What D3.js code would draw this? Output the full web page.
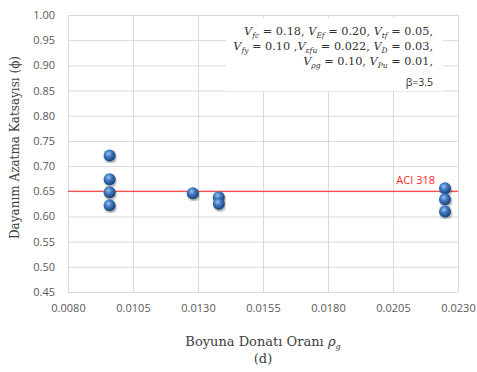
<!DOCTYPE html>
<html>
<head>
<meta charset="utf-8">
<script src="https://cdn.jsdelivr.net/npm/d3@7"></script>
<style>
  body { margin: 0; background: #fff; }
  svg { display: block; }
  .tick text { font-family: 'Open Sans', 'Liberation Sans', sans-serif; font-size: 11px; fill: #595959; }
  .grid line { stroke: #d9d9d9; stroke-width: 1; }
  .title { font-family: 'DejaVu Serif', 'Liberation Serif', serif; font-size: 12px; fill: #404040; }
  .note { font-family: 'DejaVu Serif', 'Liberation Serif', serif; font-size: 11.3px; fill: #333; }
</style>
</head>
<body>
<div id="chart"></div>
<script>
// longitudinal reinforcement ratio (x) vs strength reduction factor (y)
const rhoValues = [0.0096, 0.0096, 0.0096, 0.0096, 0.0128, 0.0138, 0.0138, 0.0225, 0.0225, 0.0225];
const phiValues = [0.721, 0.674, 0.648, 0.622, 0.646, 0.638, 0.625, 0.656, 0.634, 0.610];
const aciLimit = 0.65;
const xTicks = [0.0080, 0.0105, 0.0130, 0.0155, 0.0180, 0.0205, 0.0230];
const yTicks = [0.45, 0.50, 0.55, 0.60, 0.65, 0.70, 0.75, 0.80, 0.85, 0.90, 0.95, 1.00];

const width = 477, height = 372;
const margin = { left: 68, top: 15, right: 19, bottom: 80 };

const x = d3.scaleLinear().domain([0.008, 0.023]).range([margin.left, width - margin.right]);
const y = d3.scaleLinear().domain([0.45, 1.00]).range([height - margin.bottom, margin.top]);

const svg = d3.select('#chart').append('svg')
    .attr('width', width)
    .attr('height', height);

const defs = svg.append('defs');
const grad = defs.append('radialGradient').attr('id', 'ball')
    .attr('cx', '40%').attr('cy', '35%').attr('r', '65%');
grad.append('stop').attr('offset', '0%').attr('stop-color', '#9cc3ec');
grad.append('stop').attr('offset', '45%').attr('stop-color', '#3c78c0');
grad.append('stop').attr('offset', '100%').attr('stop-color', '#1a3f70');
defs.append('filter').attr('id', 'shadow')
    .append('feDropShadow').attr('dx', 1).attr('dy', 2).attr('stdDeviation', 1.2)
    .attr('flood-color', '#000').attr('flood-opacity', 0.35);

// gridlines
svg.append('g').attr('class', 'grid')
    .attr('transform', `translate(0,${height - margin.bottom})`)
    .call(d3.axisBottom(x).tickValues(xTicks).tickSize(-(height - margin.bottom - margin.top)).tickFormat(''))
    .call(g => g.select('.domain').remove());
svg.append('g').attr('class', 'grid')
    .attr('transform', `translate(${margin.left},0)`)
    .call(d3.axisLeft(y).tickValues(yTicks).tickSize(-(width - margin.left - margin.right)).tickFormat(''))
    .call(g => g.select('.domain').remove());

// tick labels
svg.append('g')
    .attr('transform', `translate(0,${height - margin.bottom})`)
    .call(d3.axisBottom(x).tickValues(xTicks).tickSize(0).tickPadding(12).tickFormat(d3.format('.4f')))
    .call(g => g.select('.domain').remove());
svg.append('g')
    .attr('transform', `translate(${margin.left},0)`)
    .call(d3.axisLeft(y).tickValues(yTicks).tickSize(0).tickPadding(13).tickFormat(d3.format('.2f')))
    .call(g => g.select('.domain').remove());

// annotation box
const note = svg.append('g');
note.append('rect').attr('x', 226).attr('y', 18).attr('width', 217).attr('height', 73).attr('fill', '#fff');
const lines = [
  [['V', 'i'], ['fc', 's'], [' = 0.18, '], ['V', 'i'], ['Ef', 's'], [' = 0.20, '], ['V', 'i'], ['tf', 's'], [' = 0.05,']],
  [['V', 'i'], ['fy', 's'], [' = 0.10 ,'], ['V', 'i'], ['εfu', 's'], [' = 0.022, '], ['V', 'i'], ['D', 's'], [' = 0.03,']],
  [['V', 'i'], ['ρg', 's'], [' = 0.10, '], ['V', 'i'], ['Pu', 's'], [' = 0.01,']]
];
lines.forEach((parts, i) => {
  const t = note.append('text').attr('class', 'note')
      .attr('x', 433).attr('y', 35 + i * 15).attr('text-anchor', 'end');
  let low = false;
  parts.forEach(p => {
    const span = t.append('tspan').text(p[0]);
    if (p[1] === 'i') span.attr('font-style', 'italic');
    if (p[1] === 's') {
      span.attr('font-size', '7.5px').attr('font-style', 'italic').attr('dy', 3);
      low = true;
    } else if (low) {
      span.attr('dy', -3);
      low = false;
    }
  });
});
note.append('text').attr('class', 'note')
    .attr('x', 433).attr('y', 86).attr('text-anchor', 'end')
    .style('font-family', "'Open Sans', sans-serif").style('font-size', '10.5px')
    .text('β=3.5');

// ACI 318 line
svg.append('line')
    .attr('x1', x(0.008)).attr('x2', x(0.023))
    .attr('y1', y(aciLimit)).attr('y2', y(aciLimit))
    .attr('stroke', '#ff1f1f').attr('stroke-width', 1.2);
svg.append('text')
    .attr('x', 435).attr('y', y(aciLimit) - 7)
    .attr('text-anchor', 'end')
    .style('font-family', "'Open Sans', sans-serif").style('font-size', '11px')
    .attr('fill', '#ff1f1f')
    .text('ACI 318');

// points
svg.append('g')
    .selectAll('circle').data(rhoValues)
    .enter()
    .append('circle')
    .attr('cx', d => x(d))
    .attr('cy', (d, i) => y(phiValues[i]))
    .attr('r', 6)
    .attr('fill', 'url(#ball)')
    .attr('filter', 'url(#shadow)');

// axis titles
svg.append('text').attr('class', 'title')
    .attr('transform', `translate(19,${(margin.top + height - margin.bottom) / 2 - 6}) rotate(-90)`)
    .attr('text-anchor', 'middle')
    .text('Dayanım Azatma Katsayısı  (ϕ)');
const xt = svg.append('text').attr('class', 'title')
    .attr('x', (margin.left + width - margin.right) / 2).attr('y', 346)
    .attr('text-anchor', 'middle')
    .style('font-size', '13px');
xt.append('tspan').text('Boyuna Donatı Oranı   ');
xt.append('tspan').attr('font-style', 'italic').text('ρ');
xt.append('tspan').attr('font-style', 'italic').attr('font-size', '8px').attr('dy', 3).text('g');
svg.append('text').attr('class', 'title')
    .attr('x', (margin.left + width - margin.right) / 2).attr('y', 363)
    .attr('text-anchor', 'middle')
    .style('font-size', '13px')
    .text('(d)');
</script>
</body>
</html>
